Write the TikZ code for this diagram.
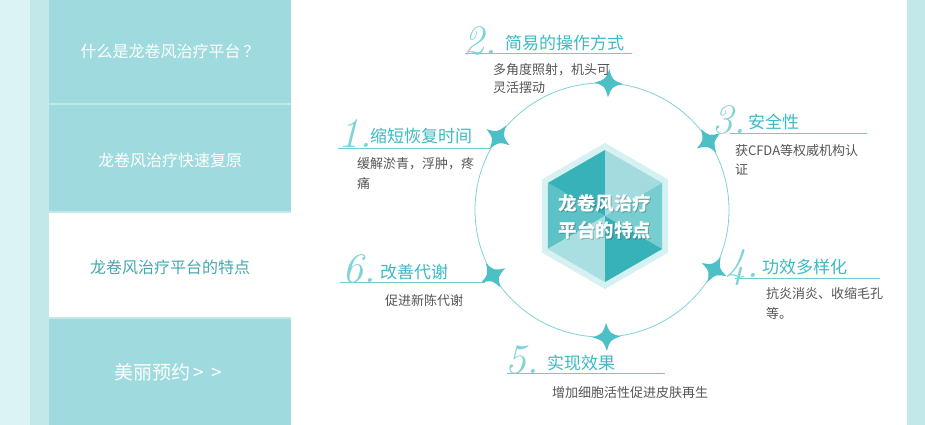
\documentclass[tikz,border=0pt]{standalone}
\usepackage{fontspec}
\newfontfamily\cjk{Noto Sans CJK SC}
\usetikzlibrary{calc}
\definecolor{navbg}{HTML}{9FDBDE}
\definecolor{navgap}{HTML}{C2E8EA}
\definecolor{navstrip}{HTML}{DBF3F4}
\definecolor{navact}{HTML}{45A8AE}
\definecolor{titlec}{HTML}{3DBAC2}
\definecolor{descc}{HTML}{555555}
\definecolor{circc}{HTML}{80D2D6}
\definecolor{starc}{HTML}{4CC0C6}
\definecolor{numc}{HTML}{7FD3D7}
\definecolor{linec}{HTML}{6FCDD2}
\definecolor{hexhalo}{HTML}{D6F1F2}
\definecolor{hexdark}{HTML}{36B2B8}
\definecolor{hexmid}{HTML}{5CC2C7}
\definecolor{hexmidl}{HTML}{78CDD1}
\definecolor{hexlight}{HTML}{A4DBDE}
\definecolor{hexlighter}{HTML}{AADFE2}
\begin{document}
\begin{tikzpicture}[x=1pt,y=-1pt,
  every node/.style={inner sep=0pt, outer sep=0pt},
  navtxt/.style={font=\cjk\fontsize{16}{16}\selectfont, text=white, anchor=base},
  ttl/.style={font=\cjk\fontsize{17}{17}\selectfont, text=titlec, anchor=base west},
  dsc/.style={font=\cjk\fontsize{13}{13}\selectfont, text=descc, anchor=base west},
  num/.style={font=\itshape\fontsize{42}{42}\selectfont, text=numc, anchor=base west},
  uline/.style={draw=linec, line width=1pt},
  hextxt/.style={font=\cjk\bfseries\fontsize{18.5}{18.5}\selectfont, text=white, anchor=base},
  hexshadow/.style={font=\cjk\bfseries\fontsize{18.5}{18.5}\selectfont, text=black, opacity=0.22, anchor=base}]
\useasboundingbox (0,0) rectangle (925,425);
\fill[white] (0,0) rectangle (925,425);
% left navigation
\fill[navstrip] (0,0) rectangle (30,425);
\fill[navgap] (30,0) rectangle (291,425);
\fill[navbg] (49,0) rectangle (291,103);
\fill[navbg] (49,105) rectangle (291,211);
\fill[white] (49,213) rectangle (291,317);
\fill[navbg] (49,319) rectangle (291,425);
\node[navtxt] (nav1) at (170,58) {什么是龙卷风治疗平台\,？};
\node[navtxt] (nav2) at (170,166) {龙卷风治疗快速复原};
\node[navtxt, text=navact] (nav3) at (170,273) {龙卷风治疗平台的特点};
\node[navtxt, font=\cjk\fontsize{19}{19}\selectfont] (nav4) at (168,379) {美丽预约\,>\ \,>};
% right strip
\fill[navgap] (907,0) rectangle (925,425);
% circle
\coordinate (O) at (602,210);
\draw[circc, line width=0.8pt] (O) circle[radius=127];
% stars
\foreach \a in {215,-87,-33,28,88,149}{
  \begin{scope}[shift={($(O)+(\a:127)$)}, rotate=-\a]
    \fill[starc] (0,-14) .. controls (3.5,-3.5) .. (14,0) .. controls (3.5,3.5) .. (0,14)
      .. controls (-3.5,3.5) .. (-14,0) .. controls (-3.5,-3.5) .. cycle;
  \end{scope}
}
% hexagon
\coordinate (C) at (605,216);
\fill[hexhalo] ($(C)+(90:73)$) -- ($(C)+(30:73)$) -- ($(C)+(-30:73)$) -- ($(C)+(-90:73)$)
  -- ($(C)+(-150:73)$) -- ($(C)+(150:73)$) -- cycle;
\coordinate (T) at (605,150);
\coordinate (UR) at (662.2,183);
\coordinate (LR) at (662.2,249);
\coordinate (B) at (605,282);
\coordinate (LL) at (547.8,249);
\coordinate (UL) at (547.8,183);
\fill[hexdark] (C) -- (T) -- (UL) -- cycle;
\fill[hexlight] (C) -- (T) -- (UR) -- cycle;
\fill[hexmid] (C) -- (UL) -- (LL) -- cycle;
\fill[hexmidl] (C) -- (UR) -- (LR) -- cycle;
\fill[hexlighter] (C) -- (LL) -- (B) -- cycle;
\fill[hexdark] (C) -- (LR) -- (B) -- cycle;
\node[hexshadow] (hs1) at (606,211.5) {龙卷风治疗};
\node[hexshadow] (hs2) at (606,238.5) {平台的特点};
\node[hextxt] (h1) at (605,210) {龙卷风治疗};
\node[hextxt] (h2) at (605,237) {平台的特点};
% underlines
\coordinate (u1a) at (338,148); \coordinate (u1b) at (490,148);
\coordinate (u2a) at (465,54);  \coordinate (u2b) at (632,54);
\coordinate (u3a) at (730,133); \coordinate (u3b) at (867,133);
\coordinate (u4a) at (735,278); \coordinate (u4b) at (880,278);
\coordinate (u5a) at (507,373); \coordinate (u5b) at (665,373);
\coordinate (u6a) at (340,282); \coordinate (u6b) at (485,282);
\draw[uline] (u1a) -- (u1b);
\draw[uline] (u2a) -- (u2b);
\draw[uline] (u3a) -- (u3b);
\draw[uline] (u4a) -- (u4b);
\draw[uline] (u5a) -- (u5b);
\draw[uline] (u6a) -- (u6b);
% numbers
\node[num] (n1) at (338,147) {1.};
\node[num] (n2) at (463,55) {2.};
\node[num] (n3) at (712,133) {3.};
\node[num] (n4) at (725,277) {4.};
\node[num] (n5) at (505,373) {5.};
\node[num] (n6) at (342,282) {6.};
% titles
\node[ttl] (t1) at (370,142.5) {缩短恢复时间};
\node[ttl] (t2) at (505,49.5) {简易的操作方式};
\node[ttl] (t3) at (748,128.5) {安全性};
\node[ttl] (t4) at (762,273.5) {功效多样化};
\node[ttl] (t5) at (547,369.5) {实现效果};
\node[ttl] (t6) at (380,278.5) {改善代谢};
% descriptions
\node[dsc] (d1a) at (357,168) {缓解淤青，浮肿，疼};
\node[dsc] (d1b) at (357,188) {痛};
\node[dsc] (d2a) at (493,75) {多角度照射，机头可};
\node[dsc] (d2b) at (493,93) {灵活摆动};
\node[dsc] (d3a) at (735,155) {获CFDA等权威机构认};
\node[dsc] (d3b) at (735,174) {证};
\node[dsc] (d4a) at (766,298) {抗炎消炎、收缩毛孔};
\node[dsc] (d4b) at (766,318) {等。};
\node[dsc] (d5) at (552,397) {增加细胞活性促进皮肤再生};
\node[dsc] (d6) at (385,305) {促进新陈代谢};
\end{tikzpicture}
\end{document}
